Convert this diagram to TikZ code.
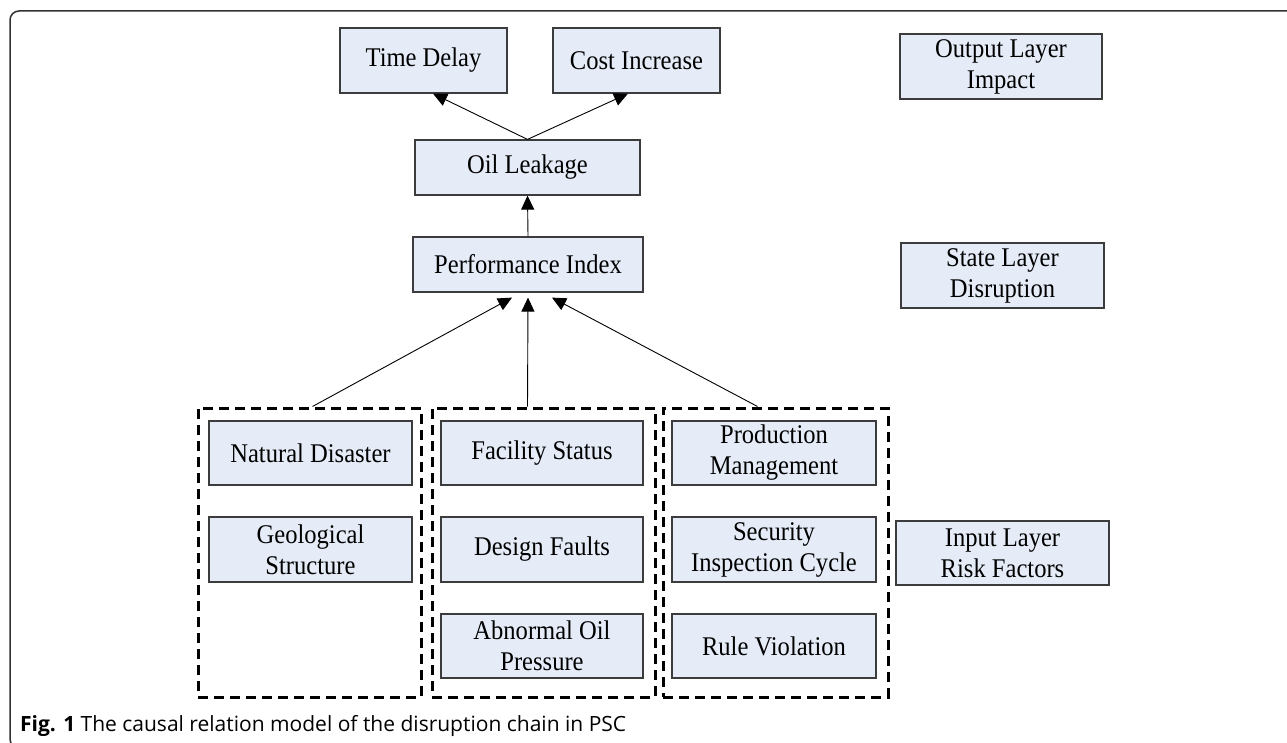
\documentclass[tikz,border=0pt]{standalone}
\usepackage{fontspec}
\setmainfont[FakeStretch=0.91]{Liberation Serif}
\newfontfamily\captionfont{Open Sans}
\usetikzlibrary{arrows.meta}
\definecolor{boxfill}{RGB}{229,236,247}
\definecolor{boxline}{RGB}{60,60,60}
\definecolor{framecol}{RGB}{50,50,50}
\tikzset{
  box/.style={draw=boxline, fill=boxfill, line width=1.2pt, align=center,
    inner sep=0pt, font=\fontsize{27}{31}\selectfont},
  group/.style={draw=black, line width=3pt, dash pattern=on 10pt off 6pt,
    inner sep=0pt},
  link/.style={draw=black, line width=0.9pt, -{Triangle[length=14pt,width=13pt]}}
}
\begin{document}
\begin{tikzpicture}[x=1pt,y=-1pt]
\clip (0,0) rectangle (1287,743);
\fill[white] (0,0) rectangle (1287,743);
% outer frame
\draw[framecol, line width=1.5pt, rounded corners=9pt] (10,11) rectangle (1300,748);

% output layer
\node[box, minimum width=167pt, minimum height=65pt] (td) at (423.5,60.5) {Time Delay};
\node[box, minimum width=167pt, minimum height=65pt] (ci) at (636.5,60.5) {Cost Increase};
% state layer
\node[box, minimum width=225pt, minimum height=55pt] (ol) at (527.5,167.5) {Oil Leakage};
\node[box, minimum width=230pt, minimum height=55pt] (pi) at (528,264.5) {Performance Index};

% layer labels
\node[box, minimum width=202pt, minimum height=65pt] (outl) at (1001,66.5) {Output Layer\\Impact};
\node[box, minimum width=203pt, minimum height=65pt] (statel) at (1002.5,275.5) {State Layer\\Disruption};
\node[box, minimum width=213pt, minimum height=64pt] (inl) at (1002.5,553) {Input Layer\\Risk Factors};

% risk factor groups
\node[group, minimum width=223pt, minimum height=289pt] (g1) at (309.5,552.5) {};
\node[group, minimum width=223pt, minimum height=289pt] (g2) at (543.5,552.5) {};
\node[group, minimum width=225pt, minimum height=289pt] (g3) at (775.5,552.5) {};

\node[box, minimum width=203pt, minimum height=64pt] (nd) at (310.5,453) {Natural Disaster};
\node[box, minimum width=203pt, minimum height=65pt] (geo) at (310.5,549.5) {Geological\\Structure};

\node[box, minimum width=202pt, minimum height=64pt] (fac) at (542,453) {Facility Status};
\node[box, minimum width=202pt, minimum height=65pt] (des) at (542,549.5) {Design Faults};
\node[box, minimum width=202pt, minimum height=64pt] (abn) at (542,646) {Abnormal Oil\\Pressure};

\node[box, minimum width=204pt, minimum height=64pt] (prod) at (774,453) {Production\\Management};
\node[box, minimum width=204pt, minimum height=65pt] (sec) at (774,549.5) {Security\\Inspection Cycle};
\node[box, minimum width=204pt, minimum height=64pt] (rule) at (774,646) {Rule Violation};

% causal links
\draw[link] (ol.north) -- ([xshift=9.5pt]td.south);
\draw[link] (ol.north) -- ([xshift=-8.5pt]ci.south);
\draw[link] (pi.north) -- (ol.south);
\draw[link] ([xshift=3pt]g1.north) -- ([xshift=-16pt,yshift=-5pt]pi.south);
\draw[link] ([xshift=-16pt]g2.north) -- ([yshift=-5pt]pi.south);
\draw[link] ([xshift=-18pt]g3.north) -- ([xshift=24pt,yshift=-5pt]pi.south);

% caption
\node[anchor=base west, inner sep=0pt, font=\captionfont\fontsize{21}{25}\selectfont] (cap) at (20,731)
  {\textbf{Fig. 1} The causal relation model of the disruption chain in PSC};
\end{tikzpicture}
\end{document}
